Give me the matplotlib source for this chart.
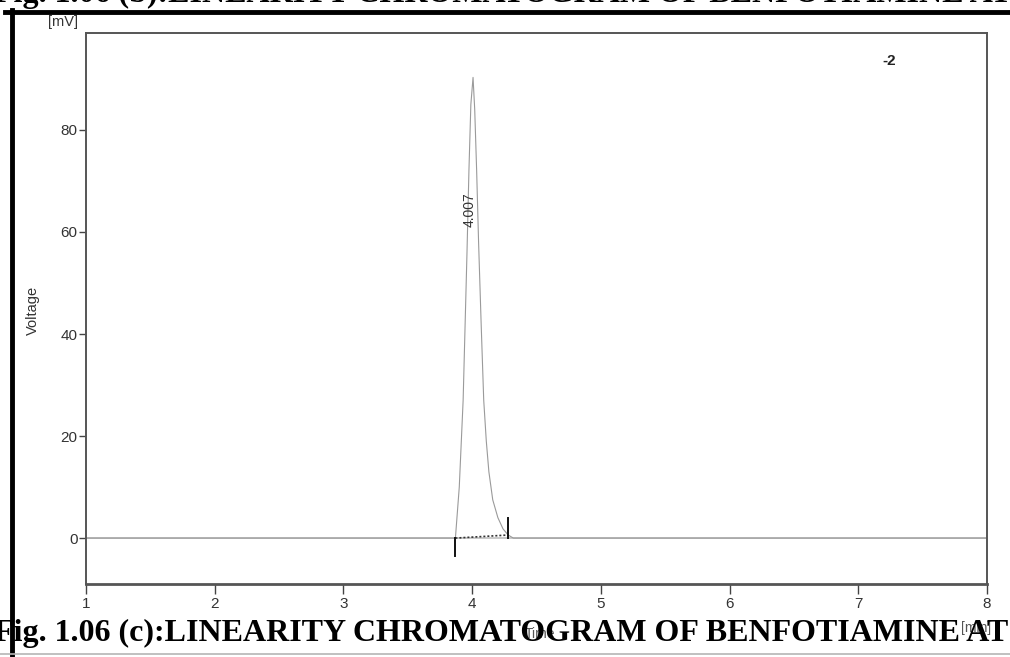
import matplotlib
matplotlib.use("Agg")
import matplotlib.pyplot as plt
from matplotlib.lines import Line2D

# Chromatogram trace (time in min, signal in mV)
time_min = [1.0, 3.80, 3.87, 3.90, 3.93, 3.96, 3.975, 3.99, 4.007, 4.02, 4.035,
            4.05, 4.07, 4.09, 4.11, 4.13, 4.16, 4.20, 4.24, 4.28, 4.32, 8.0]
signal_mv = [0.0, 0.0, 0.0, 10.0, 27.0, 56.0, 72.0, 85.0, 90.3, 84.0, 72.0,
             58.0, 42.0, 27.0, 19.0, 13.0, 7.5, 4.0, 1.8, 0.6, 0.0, 0.0]

# Integration marks
peak_rt = 4.007
peak_start, peak_end = 3.87, 4.28
start_level, end_level = 0.0, 0.6

x_ticks = [1, 2, 3, 4, 5, 6, 7, 8]
y_ticks = [0, 20, 40, 60, 80]

W, H = 1010, 657
fig = plt.figure(figsize=(W / 100, H / 100), dpi=100)

narrow = ["Liberation Sans Narrow", "Liberation Sans", "DejaVu Sans"]
serif = ["Liberation Serif", "DejaVu Serif"]


def px(x0, y0, x1, y1):
    return [x0 / W, 1 - y1 / H, (x1 - x0) / W, (y1 - y0) / H]


ax = fig.add_axes(px(86, 33, 987, 584))
ax.set_xlim(1, 8)
ax.set_ylim(-9.0, 99.0)

# baseline and trace
ax.plot([1, 8], [0, 0], color="#c4c4c4", lw=1.3, zorder=1)
ax.plot(time_min, signal_mv, color="#9a9a9a", lw=0.8, zorder=2)

# integration baseline and markers
ax.plot([peak_start, peak_end], [start_level, end_level], color="#333333",
        lw=1.2, ls=(0, (1.2, 1.2)), zorder=3)
ax.plot([peak_start, peak_start], [start_level, -3.5], color="#111111", lw=1.4, zorder=3)
ax.plot([peak_end, peak_end], [end_level - 0.6, 4.0], color="#111111", lw=1.4, zorder=3)

ax.text(peak_rt - 0.025, 61, f"{peak_rt:.3f}", rotation=90, ha="center", va="bottom",
        fontsize=10, color="#333333", family=narrow)
ax.text(7.24, 93.5, "-2", ha="center", va="center", fontsize=11,
        fontweight="bold", color="#222222", family=narrow)

for s in ax.spines.values():
    s.set_color("#555555")
    s.set_linewidth(1.4)
ax.spines["bottom"].set_linewidth(2.0)

ax.set_xticks(x_ticks)
ax.set_yticks(y_ticks)
ax.tick_params(axis="x", length=7, width=1.0, color="#444444", pad=2,
               labelsize=11, labelcolor="#333333")
ax.tick_params(axis="y", length=5, width=1.0, color="#444444", pad=1,
               labelsize=11, labelcolor="#333333")
for lab in ax.get_xticklabels() + ax.get_yticklabels():
    lab.set_family(narrow)

# axis annotations
fig.text(63 / W, 1 - 22 / H, "[mV]", ha="center", va="center", fontsize=10.5,
         color="#333333", family=narrow)
fig.text(33 / W, 1 - 310 / H, "Voltage", ha="center", va="center", rotation=90,
         fontsize=10.5, color="#333333", family=narrow)
fig.text(540 / W, 1 - 634 / H, "Time", ha="center", va="center", fontsize=10,
         color="#555555", family=narrow)
fig.text(976 / W, 1 - 628 / H, "[min]", ha="center", va="center", fontsize=10,
         color="#555555", family=narrow)

# page framing: thick rules and captions
fig.add_artist(Line2D([5 / W, 1.0], [1 - 12 / H, 1 - 12 / H], color="black", lw=3.5))
fig.add_artist(Line2D([12 / W, 12 / W], [0.0, 1 - 10 / H], color="black", lw=3.5))
fig.add_artist(Line2D([0.0, 1.0], [1 - 654 / H, 1 - 654 / H], color="#b5b5b5", lw=1.2))

fig.text(-6 / W, 1 - 633 / H, "Fig. 1.06 (c):LINEARITY CHROMATOGRAM OF BENFOTIAMINE AT",
         ha="left", va="center", fontsize=23, fontweight="bold", color="black",
         family=serif)
fig.text(-6 / W, 1 - 2 / H, "Fig. 1.06 (b):LINEARITY CHROMATOGRAM OF BENFOTIAMINE AT",
         ha="left", va="baseline", fontsize=23, fontweight="bold", color="black",
         family=serif)

fig.savefig("out.png", dpi=100)
